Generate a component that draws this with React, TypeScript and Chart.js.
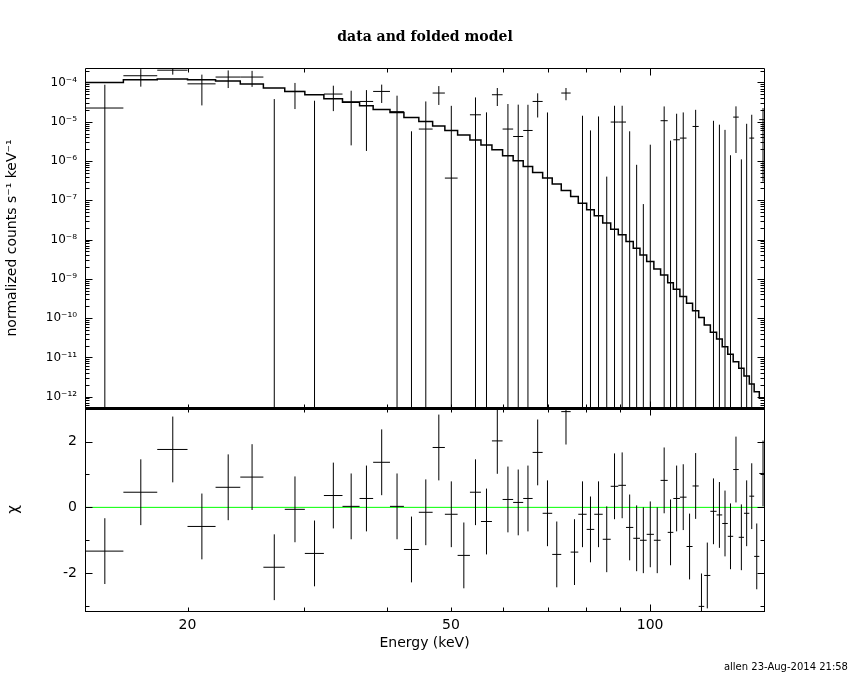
import { useEffect, useRef } from "react";
import { Chart, registerables } from "chart.js";

Chart.register(...registerables);

// channel edges in keV (60 edges -> 59 channels)
const binEdges = [
  14, 16, 18, 20, 22.05, 24.03, 26.04, 28.05, 30.08, 32.14, 34.29, 36.39, 38.15, 40.45, 42.46,
  44.72, 46.92, 48.96, 51.18, 53.42, 55.51, 57.67, 59.85, 62.09, 64.3, 66.44, 68.8, 71.13, 73.4,
  75.84, 77.88, 80.18, 82.33, 84.79, 87.18, 89.51, 91.94, 94.3, 96.52, 98.8, 101.3, 103.7, 106.3,
  108.4, 110.9, 113.5, 115.9, 118.4, 120.7, 123.3, 126.0, 128.5, 131.0, 133.5, 136.1, 138.6, 141.2,
  143.6, 146.2, 150,
];

// normalized counts s^-1 keV^-1
const rate = [
  2.23e-5, 1.48e-4, 2.05e-4, 9.2e-5, 1.37e-4, 1.37e-4, -4.3e-6, 5.9e-5, -1.8e-6, 5.06e-5,
  3.2e-5, 3.28e-5, 5.9e-5, 1.8e-5, -1.98e-5, 6.5e-6, 5.37e-5, 3.67e-7, -3.2e-5, 1.5e-5,
  -8.5e-6, 4.86e-5, 6.5e-6, 4.2e-6, 5.98e-6, 3.28e-5, -3.8e-6, -2.7e-5, 5.37e-5, -2.5e-5,
  -3.8e-6, -1.21e-5, -3.6e-6, -1.66e-5, 9.8e-6, 9.8e-6, -8.8e-6, -1.22e-5, -1.392e-5, -1.18e-5,
  -1.42e-5, 1.06e-5, -1.06e-5, 3.47e-6, 3.83e-6, -1.55e-5, 7.57e-6, -3.6e-5, -2.5e-5, -1.44e-6,
  -2.5e-6, -6.0e-6, -9.9e-6, 1.31e-5, -1.13e-5, -1.95e-6, 3.83e-6, -1.64e-5, 1.13e-5,
];

const rateErr = [
  6.5e-5, 7.0e-5, 4.7e-5, 6.6e-5, 6.5e-5, 6.0e-5, 4.2e-5, 3.8e-5, 3.6e-5, 3.2e-5,
  2.95e-5, 3.1e-5, 2.9e-5, 2.8e-5, 2.55e-5, 2.63e-5, 2.7e-5, 2.5e-5, 2.5e-5, 2.65e-5,
  2.58e-5, 2.35e-5, 2.17e-5, 2.3e-5, 2.1e-5, 2.0e-5, 2.1e-5, 1.9e-5, 1.85e-5, 1.85e-5,
  1.8e-5, 1.81e-5, 1.72e-5, 1.7e-5, 1.57e-5, 1.57e-5, 1.45e-5, 1.3e-5, 1.4e-5, 1.44e-5,
  1.4e-5, 1.39e-5, 1.39e-5, 1.25e-5, 1.34e-5, 1.3e-5, 1.25e-5, 1.2e-5, 1.2e-5, 1.2e-5,
  1.09e-5, 1.22e-5, 1.13e-5, 1.15e-5, 1.24e-5, 1.08e-5, 1.12e-5, 1.1e-5, 1.1e-5,
];

// folded model per channel
const model = [
  1.0e-4, 1.17e-4, 1.22e-4, 1.17e-4, 1.08e-4, 9.1e-5, 7.2e-5, 5.9e-5, 4.86e-5, 3.85e-5,
  3.11e-5, 2.55e-5, 2.05e-5, 1.72e-5, 1.28e-5, 1.01e-5, 7.74e-6, 5.98e-6, 4.57e-6, 3.41e-6,
  2.54e-6, 1.93e-6, 1.36e-6, 1.01e-6, 7.24e-7, 5.09e-7, 3.67e-7, 2.58e-7, 1.77e-7, 1.25e-7,
  8.45e-8, 5.71e-8, 4.02e-8, 2.62e-8, 1.84e-8, 1.32e-8, 8.9e-9, 6.04e-9, 4.07e-9, 2.75e-9,
  1.79e-9, 1.26e-9, 8.0e-10, 5.43e-10, 3.53e-10, 2.39e-10, 1.55e-10, 1.03e-10, 6.7e-11, 4.36e-11,
  2.94e-11, 1.87e-11, 1.2e-11, 7.77e-12, 5.27e-12, 3.36e-12, 2.1e-12, 1.34e-12, 9.1e-13,
];

// residuals (chi), error bars are +-1
const chi = [
  -1.33, 0.46, 1.76, -0.58, 0.61, 0.92, -1.82, -0.06, -1.4, 0.36,
  0.03, 0.27, 1.37, 0.03, -1.28, -0.15, 1.82, -0.21, -1.46, 0.46,
  -0.43, 2.02, 0.24, 0.15, 0.27, 1.67, -0.18, -1.43, 2.91, -1.36,
  -0.21, -0.67, -0.21, -0.97, 0.64, 0.67, -0.61, -0.94, -1.0, -0.82,
  -1.0, 0.82, -0.76, 0.27, 0.31, -1.19, 0.65, -3.01, -2.07, -0.12,
  -0.23, -0.49, -0.88, 1.15, -0.91, -0.18, 0.34, -1.49, 1.03,
];

const energyTicks = [20, 30, 40, 50, 60, 70, 80, 90, 100];
const energyMajor = [100];
const energyLabels = [20, 50, 100];
const ratePowers = [-12, -11, -10, -9, -8, -7, -6, -5, -4];
const chiTicks = [-3, -2, -1, 0, 1, 2, 3];
const chiLabels = [-2, 0, 2];

const eMin = 14;
const eMax = 148.6;
const rateMin = 5.15e-13;
const rateMax = 2.33e-4;
const chiMin = -3.15;
const chiMax = 3.02;

const SANS = "'DejaVu Sans', sans-serif";
const SUP: Record<string, string> = {
  "-": "\u207B", "0": "\u2070", "1": "\u00B9", "2": "\u00B2", "3": "\u00B3",
  "4": "\u2074", "5": "\u2075", "6": "\u2076", "7": "\u2077", "8": "\u2078", "9": "\u2079",
};
const sup = (s: string) => s.split("").map((c) => SUP[c] || c).join("");

const clamp = (v: number, lo: number, hi: number) => Math.min(hi, Math.max(lo, v));

// error crosses as broken line segments (null y = gap)
function crossPoints(vals: number[], errs: number[], lo: number, hi: number) {
  const pts: any[] = [];
  vals.forEach((v, i) => {
    const e0 = binEdges[i];
    const e1 = binEdges[i + 1];
    const mid = (e0 + e1) / 2;
    if (v >= lo && v <= hi) {
      pts.push({ x: e0, y: v }, { x: e1, y: v }, { x: mid, y: null });
    }
    const up = v + errs[i];
    const dn = v - errs[i];
    if (up > lo && dn < hi) {
      pts.push({ x: mid, y: clamp(dn, lo, hi) }, { x: mid, y: clamp(up, lo, hi) }, { x: mid, y: null });
    }
  });
  return pts;
}

function stepPoints(vals: number[]) {
  const pts: any[] = [];
  vals.forEach((v, i) => pts.push({ x: binEdges[i], y: v }, { x: binEdges[i + 1], y: v }));
  return pts;
}

type Tick = { v: number; major: boolean };

// frame with inward ticks on all four sides
function framePlugin(xt: Tick[], yt: Tick[], bottomWidth: number) {
  return {
    id: "frame",
    afterDatasetsDraw(chart: any) {
      const { ctx, chartArea: a } = chart;
      const xs = chart.scales.x;
      const ys = chart.scales.y;
      const L = Math.round(a.left) + 0.5;
      const R = Math.round(a.right) + 0.5;
      const T = Math.round(a.top) + 0.5;
      const B = Math.round(a.bottom) + 0.5;
      ctx.save();
      ctx.strokeStyle = "#000";
      ctx.lineWidth = 1;
      ctx.beginPath();
      xt.forEach((t) => {
        const p = Math.round(xs.getPixelForValue(t.v)) + 0.5;
        const len = t.major ? 7 : 4;
        ctx.moveTo(p, T);
        ctx.lineTo(p, T + len);
        ctx.moveTo(p, B);
        ctx.lineTo(p, B - len);
      });
      yt.forEach((t) => {
        const p = Math.round(ys.getPixelForValue(t.v)) + 0.5;
        const len = t.major ? 7 : 4;
        ctx.moveTo(L, p);
        ctx.lineTo(L + len, p);
        ctx.moveTo(R, p);
        ctx.lineTo(R - len, p);
      });
      ctx.moveTo(L, B);
      ctx.lineTo(L, T);
      ctx.lineTo(R, T);
      ctx.lineTo(R, B);
      ctx.stroke();
      ctx.lineWidth = bottomWidth;
      ctx.beginPath();
      ctx.moveTo(L - 0.5, B);
      ctx.lineTo(R + 0.5, B);
      ctx.stroke();
      ctx.restore();
    },
  };
}

const xTickSet: Tick[] = energyTicks.map((v) => ({ v, major: energyMajor.includes(v) }));
const rateTickSet: Tick[] = [];
for (let p = ratePowers[0] - 1; p <= ratePowers[ratePowers.length - 1]; p++) {
  for (let k = 1; k <= 9; k++) {
    const v = k * Math.pow(10, p);
    if (v >= rateMin && v <= rateMax) rateTickSet.push({ v, major: k === 1 });
  }
}
const chiTickSet: Tick[] = chiTicks.map((v) => ({ v, major: chiLabels.includes(v) }));

export default function App() {
  const topRef = useRef<HTMLCanvasElement | null>(null);
  const botRef = useRef<HTMLCanvasElement | null>(null);

  useEffect(() => {
    if (!topRef.current || !botRef.current) return;

    const top = new Chart(topRef.current, {
      type: "scatter",
      data: {
        datasets: [
          {
            data: stepPoints(model),
            showLine: true,
            borderColor: "#000",
            borderWidth: 1.5,
            pointRadius: 0,
            clip: 0,
          },
          {
            data: crossPoints(rate, rateErr, rateMin, rateMax),
            showLine: true,
            spanGaps: false,
            borderColor: "#000",
            borderWidth: 1,
            pointRadius: 0,
            clip: 0,
          },
        ],
      },
      options: {
        animation: false,
        responsive: false,
        events: [],
        layout: { padding: { left: 0, right: 0, top: 0, bottom: 32 } },
        plugins: {
          legend: { display: false },
          tooltip: { enabled: false },
          title: {
            display: true,
            text: "data and folded model",
            color: "#000",
            font: { family: "'DejaVu Serif', serif", size: 14, weight: "bold" },
            padding: { top: 29, bottom: 22.2 },
          },
        },
        scales: {
          x: { type: "logarithmic", min: eMin, max: eMax, display: false },
          y: {
            type: "logarithmic",
            min: rateMin,
            max: rateMax,
            afterBuildTicks: (s: any) => {
              s.ticks = ratePowers.map((p) => ({ value: Math.pow(10, p) }));
            },
            afterFit: (s: any) => {
              s.width = 85;
            },
            grid: { display: false, drawTicks: false },
            border: { display: false },
            ticks: {
              autoSkip: false,
              padding: 8,
              color: "#000",
              font: { family: SANS, size: 12 },
              callback: (v: any) => "10" + sup(String(Math.round(Math.log10(Number(v))))),
            },
            title: {
              display: true,
              text: "normalized counts s\u207B\u00B9 keV\u207B\u00B9",
              color: "#000",
              font: { family: SANS, size: 14 },
              padding: { top: 4, bottom: 0 },
            },
          },
          // empty right-hand strip so the title centres on the full page width
          yRight: {
            type: "linear",
            position: "right",
            grid: { display: false, drawTicks: false },
            border: { display: false },
            ticks: { display: false },
            afterFit: (s: any) => {
              s.width = 86;
            },
          },
        },
      } as any,
      plugins: [framePlugin(xTickSet, rateTickSet, 3)],
    });

    const bot = new Chart(botRef.current, {
      type: "scatter",
      data: {
        datasets: [
          {
            data: crossPoints(chi, chi.map(() => 1), chiMin, chiMax),
            showLine: true,
            spanGaps: false,
            borderColor: "#000",
            borderWidth: 1,
            pointRadius: 0,
            clip: 0,
            order: 0,
          },
          {
            data: [
              { x: eMin, y: 0 },
              { x: eMax, y: 0 },
            ],
            showLine: true,
            borderColor: "#00ff00",
            borderWidth: 1,
            pointRadius: 0,
            clip: 0,
            order: 1,
          },
        ],
      },
      options: {
        animation: false,
        responsive: false,
        events: [],
        layout: { padding: { left: 0, right: 86, top: 28, bottom: 0 } },
        plugins: {
          legend: { display: false },
          tooltip: { enabled: false },
        },
        scales: {
          x: {
            type: "logarithmic",
            min: eMin,
            max: eMax,
            afterBuildTicks: (s: any) => {
              s.ticks = energyLabels.map((v) => ({ value: v }));
            },
            afterFit: (s: any) => {
              s.height = 69;
            },
            grid: { display: false, drawTicks: false },
            border: { display: false },
            ticks: {
              autoSkip: false,
              maxRotation: 0,
              padding: 6,
              color: "#000",
              font: { family: SANS, size: 14 },
              callback: (v: any) => String(v),
            },
            title: {
              display: true,
              text: "Energy (keV)",
              color: "#000",
              font: { family: SANS, size: 14 },
              padding: { top: 0, bottom: 28.6 },
            },
          },
          y: {
            type: "linear",
            min: chiMin,
            max: chiMax,
            afterBuildTicks: (s: any) => {
              s.ticks = chiLabels.map((v) => ({ value: v }));
            },
            afterFit: (s: any) => {
              s.width = 85;
            },
            grid: { display: false, drawTicks: false },
            border: { display: false },
            ticks: {
              autoSkip: false,
              padding: 8,
              color: "#000",
              font: { family: SANS, size: 14 },
              callback: (v: any) => String(v),
            },
            title: {
              display: true,
              text: "\u03C7",
              color: "#000",
              font: { family: SANS, size: 15 },
              padding: { top: 5, bottom: 0 },
            },
          },
        },
      } as any,
      plugins: [framePlugin(xTickSet, chiTickSet, 1)],
    });

    return () => {
      top.destroy();
      bot.destroy();
    };
  }, []);

  return (
    <div style={{ position: "absolute", left: 0, top: 0, width: 850, height: 680, background: "#fff" }}>
      <canvas ref={topRef} width={850} height={440} style={{ position: "absolute", left: 0, top: 0 }} />
      <canvas ref={botRef} width={850} height={300} style={{ position: "absolute", left: 0, top: 380 }} />
      <div
        style={{
          position: "absolute",
          right: 2,
          top: 661,
          font: "10px 'DejaVu Sans', sans-serif",
          color: "#000",
          whiteSpace: "nowrap",
        }}
      >
        allen 23-Aug-2014 21:58
      </div>
    </div>
  );
}
